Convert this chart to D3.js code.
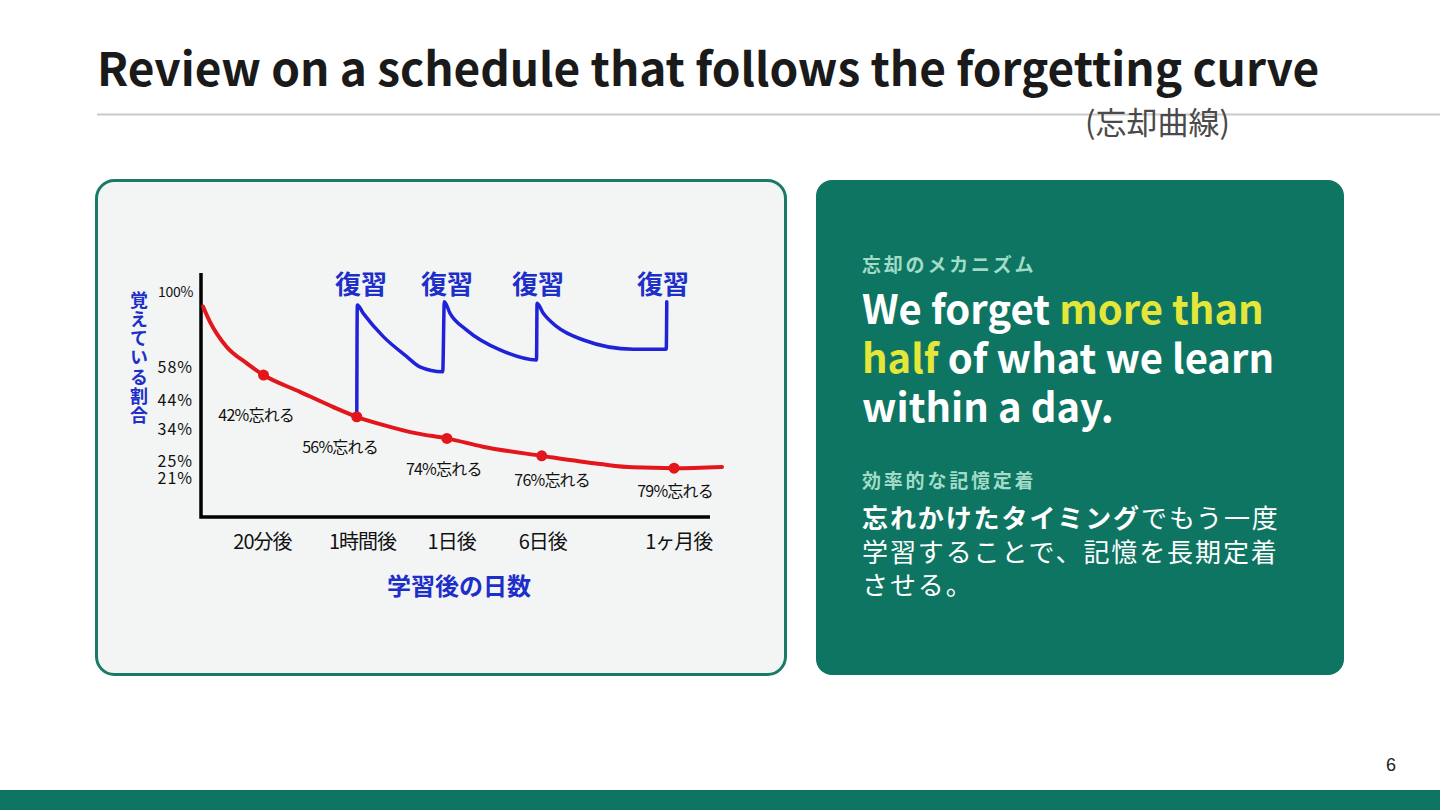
<!DOCTYPE html>
<html>
<head>
<meta charset="utf-8">
<script src="https://cdn.jsdelivr.net/npm/d3@7"></script>
<style>
  body { margin: 0; background: #fff; }
  svg { display: block; font-family: "Noto Sans CJK JP", "Noto Sans", sans-serif; }
</style>
</head>
<body>
<svg width="1440" height="810"></svg>
<script>
// x is a schematic 0-100 timeline (the original drawing is not to scale)
const timeLabels = ["20分後", "1時間後", "1日後", "6日後", "1ヶ月後"];
const timeTicks = [11.7, 30.9, 48.0, 65.5, 91.6];
const retentionTicks = [100, 58, 44, 34, 25, 21];

// red curve: retention without review
const curveT = [0.4, 1.7, 4.9, 8.8, 12.0, 19.0, 25.3, 29.9, 34.9, 41.4, 47.2, 54.1, 65.4, 76.6, 82.9, 90.8, 100];
const curveP = [90.5, 81.5, 67.8, 59.7, 54.4, 47.4, 41.7, 38.2, 35.5, 32.8, 31.3, 28.9, 26.4, 24.3, 23.5, 23.3, 23.6];

// checkpoints on the red curve
const checkT = [12.0, 29.9, 47.2, 65.4, 90.8];
const checkP = [54.4, 38.2, 31.3, 26.4, 23.3];
const forgetLabels = ["42%忘れる", "56%忘れる", "74%忘れる", "76%忘れる", "79%忘れる"];
const forgetT = [10.6, 26.7, 46.6, 67.4, 91.0];
const forgetP = [39.1, 29.1, 23.3, 20.8, 18.4];

// blue curve: retention with reviews
const reviewLabelT = [30.7, 47.2, 64.7, 88.7];
const reviewCurveT = [29.9, 30.0, 31.15, 35.0, 39.5, 42.0, 46.4, 46.7, 47.8, 51.0, 57.4, 64.4, 64.5, 65.7, 68.3, 73.4, 83.0, 89.3, 89.4];
const reviewCurveP = [38.2, 91.6, 86.4, 73.1, 62.9, 58.1, 55.9, 93.6, 86.4, 76.7, 66.2, 61.3, 92.6, 86.4, 78.6, 71.3, 66.5, 66.5, 93.6];

const teal = "#0e7562";
const red = "#e3161b";
const blue = "#1f22d8";
const labelBlue = "#1d2fc8";

const svg = d3.select("svg");

// ---- page chrome ----
svg.append("text").attr("x", 97).attr("y", 86)
  .attr("font-size", 46).attr("font-weight", 700).attr("fill", "#1a1a1a")
  .attr("letter-spacing", -0.05)
  .text("Review on a schedule that follows the forgetting curve");
svg.append("line").attr("x1", 97).attr("x2", 1440).attr("y1", 114.5).attr("y2", 114.5)
  .attr("stroke", "#cacaca").attr("stroke-width", 2);
svg.append("text").attr("x", 1085).attr("y", 134)
  .attr("font-size", 31).attr("fill", "#4a4a4a")
  .text("(忘却曲線)");

svg.append("rect").attr("x", 96.5).attr("y", 180.5).attr("width", 689).attr("height", 494)
  .attr("rx", 18).attr("fill", "#f3f5f5").attr("stroke", "#1b7a67").attr("stroke-width", 3);
svg.append("rect").attr("x", 816).attr("y", 180).attr("width", 528).attr("height", 495)
  .attr("rx", 16).attr("fill", teal);
svg.append("rect").attr("x", 0).attr("y", 790).attr("width", 1440).attr("height", 20).attr("fill", teal);
svg.append("text").attr("x", 1391).attr("y", 771).attr("text-anchor", "middle")
  .attr("font-family", "Liberation Sans, Arial, sans-serif").attr("font-size", 18).attr("fill", "#222")
  .text("6");

// ---- chart ----
const plot = {left: 201, top: 273, bottom: 517, axisEnd: 710};
const x = d3.scaleLinear().domain([0, 100]).range([plot.left, 722]);
const y = d3.scalePow().exponent(0.3).domain([21, 100]).range([478, 292]);

const chart = svg.append("g");

const xAxis = d3.axisBottom(x).tickValues(timeTicks).tickFormat((d, i) => timeLabels[i])
  .tickSize(0).tickPadding(18);
chart.append("g").attr("transform", `translate(0,${plot.bottom})`).call(xAxis)
  .call(g => g.select(".domain").remove())
  .selectAll("text").attr("font-size", 20).attr("fill", "#111")
  .attr("font-family", "'Noto Sans CJK JP', sans-serif").attr("letter-spacing", -1);

const yAxis = d3.axisLeft(y).tickValues(retentionTicks).tickFormat(d => d + "%")
  .tickSize(0).tickPadding(8);
chart.append("g").attr("transform", `translate(${plot.left},0)`).call(yAxis)
  .call(g => g.select(".domain").remove())
  .selectAll("text").attr("font-size", d => d === 100 ? 14 : 16).attr("fill", "#111")
  .attr("font-family", "'Noto Sans CJK JP', sans-serif").attr("letter-spacing", d => d === 100 ? -0.3 : 1);

// axis lines
chart.append("path")
  .attr("d", `M${plot.left},${plot.top}V${plot.bottom}H${plot.axisEnd}`)
  .attr("fill", "none").attr("stroke", "#000").attr("stroke-width", 3.5);

// y title, vertical writing
chart.append("text").attr("x", 139).attr("y", 291)
  .style("writing-mode", "vertical-rl")
  .attr("font-size", 18).attr("font-weight", 700).attr("fill", labelBlue)
  .attr("letter-spacing", 1.2)
  .text("覚えている割合");

// x title
chart.append("text").attr("x", 459).attr("y", 595).attr("text-anchor", "middle")
  .attr("font-size", 24).attr("font-weight", 700).attr("fill", labelBlue)
  .text("学習後の日数");

const line = d3.line().x(d => x(d[0])).y(d => y(d[1])).curve(d3.curveMonotoneX);

// red forgetting curve
chart.append("path").datum(d3.zip(curveT, curveP))
  .attr("d", line).attr("fill", "none").attr("stroke", red).attr("stroke-width", 4)
  .attr("stroke-linecap", "round");

// blue review curve
chart.append("path").datum(d3.zip(reviewCurveT, reviewCurveP))
  .attr("d", line).attr("fill", "none").attr("stroke", blue).attr("stroke-width", 3.5)
  .attr("stroke-linejoin", "round").attr("stroke-linecap", "round");

chart.append("g").selectAll("circle").data(d3.zip(checkT, checkP)).join("circle")
  .attr("cx", d => x(d[0])).attr("cy", d => y(d[1])).attr("r", 5.5).attr("fill", red);

chart.append("g").selectAll("text").data(d3.zip(forgetT, forgetP, forgetLabels)).join("text")
  .attr("x", d => x(d[0])).attr("y", d => y(d[1]))
  .attr("text-anchor", "middle").attr("dominant-baseline", "central")
  .attr("font-size", 16).attr("fill", "#111").attr("letter-spacing", -0.8)
  .text(d => d[2]);

chart.append("g").selectAll("text").data(reviewLabelT).join("text")
  .attr("x", d => x(d)).attr("y", 282)
  .attr("text-anchor", "middle").attr("dominant-baseline", "central")
  .attr("font-size", 26).attr("font-weight", 700).attr("fill", labelBlue)
  .text("復習");

// ---- right panel ----
const panel = svg.append("g").attr("transform", "translate(862,0)");
const mint = "#a2dcc9";
const yellow = "#e4e63a";

panel.append("text").attr("y", 272).attr("font-size", 19).attr("font-weight", 700)
  .attr("fill", mint).attr("letter-spacing", 2.8).text("忘却のメカニズム");

const headline = [
  [["We forget ", "#fff"], ["more than", yellow]],
  [["half", yellow], [" of what we learn", "#fff"]],
  [["within a day.", "#fff"]]
];
headline.forEach((parts, i) => {
  const t = panel.append("text").attr("y", 324 + i * 49)
    .attr("font-size", 40).attr("font-weight", 700);
  parts.forEach(p => t.append("tspan").attr("fill", p[1]).text(p[0]));
});

panel.append("text").attr("y", 488).attr("font-size", 19).attr("font-weight", 700)
  .attr("fill", mint).attr("letter-spacing", 2.8).text("効率的な記憶定着");

const body = [
  [["忘れかけたタイミング", 700], ["でもう一度", 400]],
  [["学習することで、記憶を長期定着", 400]],
  [["させる。", 400]]
];
body.forEach((parts, i) => {
  const t = panel.append("text").attr("y", 528 + i * 33.5)
    .attr("font-size", 26).attr("fill", "#fff").attr("letter-spacing", 1.9);
  parts.forEach(p => t.append("tspan").attr("font-weight", p[1]).text(p[0]));
});
</script>
</body>
</html>
